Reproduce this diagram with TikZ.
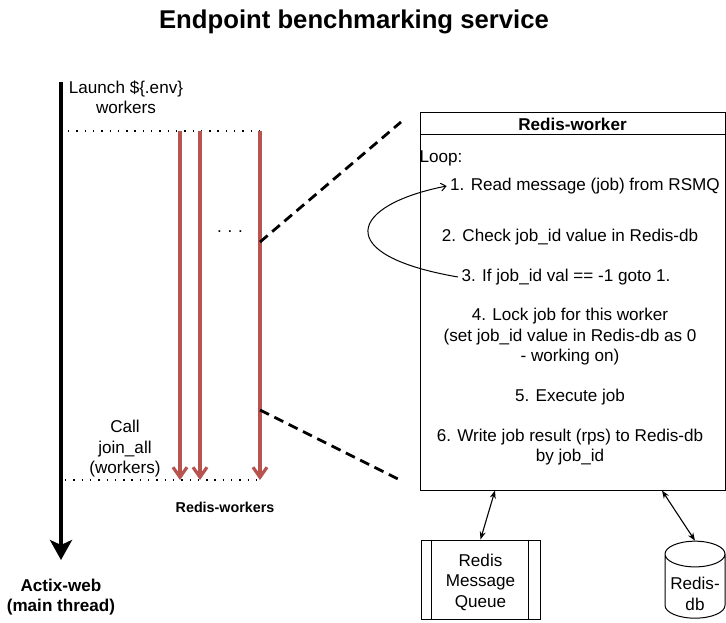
\documentclass[tikz,border=0pt]{standalone}
\usepackage{fontspec}
\setmainfont{Liberation Sans}
\usepackage{tikz}
\usetikzlibrary{arrows.meta,shapes.geometric}
\definecolor{workerred}{HTML}{B85450}

\begin{document}
\begin{tikzpicture}[x=1pt,y=-1pt,
  every node/.style={font=\fontsize{17.1}{20.5}\selectfont, align=center},
  bold/.style={font=\fontsize{17.1}{20.5}\selectfont\bfseries},
  dots/.style={line width=1.4pt, dash pattern=on 1.4pt off 6.9pt},
  workerline/.style={draw=workerred, line width=3.2pt},
  zoomline/.style={line width=2.8pt, dash pattern=on 10pt off 6pt},
  dbl/.style={line width=1.1pt, {Stealth[open,length=8pt,width=6pt]}-{Stealth[open,length=8pt,width=6pt]}}]

  \useasboundingbox (0,0) rectangle (726,622);

  \draw (354,22) node[font=\fontsize{25.7}{30}\selectfont\bfseries] (title) {Endpoint benchmarking service};

  \draw (61,82) coordinate (mtop);
  \draw (61,560) coordinate (mend);
  \draw (61,597) node[bold] (actix) {Actix-web\\(main thread)};
  \path[line width=4.6pt, -{Stealth[length=20pt,width=22pt,inset=5pt]}] (mtop) edge (mend);

  \draw (126,97) node (launch) {Launch \$\{.env\}\\workers};
  \draw (125,449) node (call) {Call\\join\_all\\(workers)};

  \draw (68,131) coordinate (spawnl);
  \draw (260,131) coordinate (spawnr);
  \draw (65,480) coordinate (joinl);
  \draw (260,480) coordinate (joinr);
  \path[dots] (spawnl) edge (spawnr);
  \path[dots] (joinl) edge (joinr);

  \draw (180,131) coordinate (wastart);
  \draw (200,131) coordinate (wbstart);
  \draw (260,131) coordinate (wcstart);
  \draw (180,480) coordinate (waend);
  \draw (200,480) coordinate (wbend);
  \draw (260,480) coordinate (wcend);
  \draw[workerline, -{Straight Barb[length=10pt,width=14pt]}] (wastart) -- (waend);
  \draw[workerline, -{Straight Barb[length=10pt,width=14pt]}] (wbstart) -- (wbend);
  \draw[workerline, -{Straight Barb[length=10pt,width=14pt]}] (wcstart) -- (wcend);

  \draw (230,232) node (more) {.\,\,.\,\,.};
  \draw (225,507) node[font=\fontsize{14.3}{17}\selectfont\bfseries] (workers) {Redis-workers};

  \draw (572.5,301) node[draw, line width=1pt, minimum width=305pt, minimum height=378pt] (worker) {};
  \draw ([yshift=-23pt]worker.north west) -- ([yshift=-23pt]worker.north east);
  \draw (572.5,124) node[bold] (head) {Redis-worker};

  \draw (260,242) coordinate (zooma);
  \draw (401,122) coordinate (zoomb);
  \draw (260,410) coordinate (zoomc);
  \draw (400,480) coordinate (zoomd);
  \path[zoomline] (zooma) edge (zoomb);
  \path[zoomline] (zoomc) edge (zoomd);

  \draw (416,158) node[anchor=west] (loop) {Loop:};
  \draw (585,186) node (one) {1. Read message (job) from RSMQ};
  \draw (570,237) node (two) {2. Check job\_id value in Redis-db};
  \draw (566,277) node (three) {3. If job\_id val == -1 goto 1.};
  \draw (570,337) node (four) {4. Lock job for this worker\\(set job\_id value in Redis-db as 0\\- working on)};
  \draw (570,397) node (five) {5. Execute job};
  \draw (570,447) node (six) {6. Write job result (rps) to Redis-db\\by job\_id};

  \draw[line width=1pt, -{Straight Barb[length=5pt,width=8pt]}] (three.west) .. controls (330,255) and (350,205) .. (one.west);

  \draw (480.5,579.5) node[draw, line width=1pt, minimum width=119pt, minimum height=79pt] (queue) {};
  \draw (480.5,582) node (queuetext) {Redis\\Message\\Queue};
  \draw ([xshift=11pt]queue.north west) -- ([xshift=11pt]queue.south west);
  \draw ([xshift=-12pt]queue.north east) -- ([xshift=-12pt]queue.south east);

  \draw (695,588) node[draw, line width=1pt, cylinder, shape border rotate=90, shape aspect=0.5, minimum width=60pt, minimum height=77pt, inner sep=1pt] (db) {\phantom{Redis-}\\\phantom{db}};
  \draw (695,594) node (dbtext) {Redis-\\db};

  \path[dbl] ([xshift=-77.5pt]worker.south) edge (queue.north);
  \path[dbl] ([xshift=89.5pt]worker.south) edge (db.north);
\end{tikzpicture}
\end{document}
